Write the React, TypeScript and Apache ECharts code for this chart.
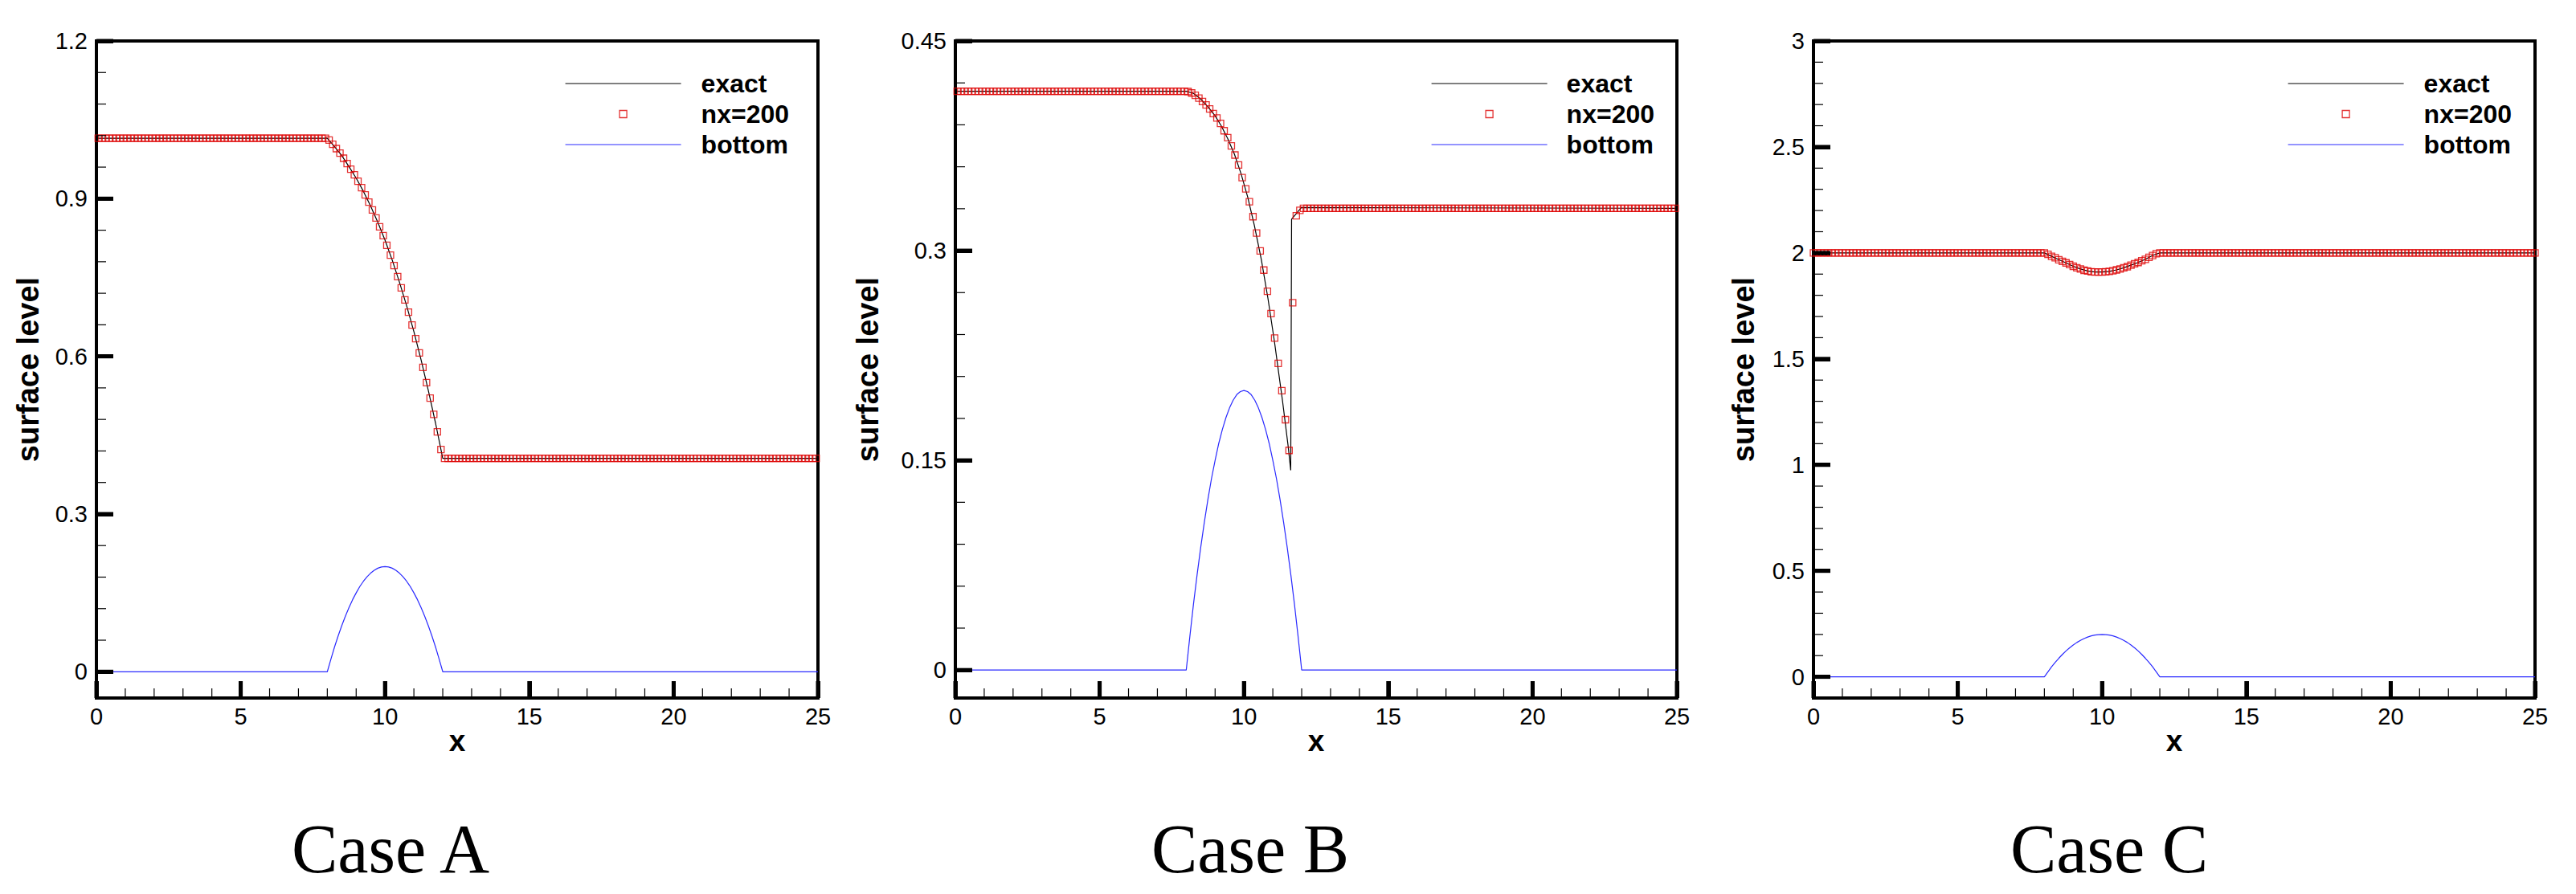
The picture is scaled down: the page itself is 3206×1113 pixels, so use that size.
import { useEffect, useRef } from "react";
import * as echarts from "echarts";

// ---------------- shared axis / grid description ----------------
const xMin = 0;
const xMax = 25;
const xTickValues = [0, 5, 10, 15, 20, 25];
const xMinorStep = 1;
const nx = 200; // number of cells of the numerical solution
const legendNames = ["exact", "nx=200", "bottom"];
const caseTitles = ["Case A", "Case B", "Case C"];

// bottom topography (identical in the three cases)
const bottomX = [0, 8, 8.125, 8.25, 8.375, 8.5, 8.625, 8.75, 8.875, 9, 9.125, 9.25, 9.375, 9.5, 9.625, 9.75, 9.875, 10, 10.125, 10.25, 10.375, 10.5, 10.625, 10.75, 10.875, 11, 11.125, 11.25, 11.375, 11.5, 11.625, 11.75, 11.875, 12, 25];
const bottomZ = [0, 0, 0.024, 0.047, 0.068, 0.0875, 0.1055, 0.122, 0.137, 0.15, 0.162, 0.172, 0.1805, 0.1875, 0.193, 0.197, 0.1992, 0.2, 0.1992, 0.197, 0.193, 0.1875, 0.1805, 0.172, 0.162, 0.15, 0.137, 0.122, 0.1055, 0.0875, 0.068, 0.047, 0.024, 0, 0];

// ---------------- Case A ----------------
const yRangeA = [-0.05, 1.2];
const yTicksA = [0, 0.3, 0.6, 0.9, 1.2];
const yMinorStepA = 0.06;
const exactAX = [0, 8, 8.25, 8.5, 8.75, 9, 9.25, 9.5, 9.75, 10, 10.25, 10.5, 10.75, 11, 11.25, 11.5, 11.75, 12, 25];
const exactAY = [1.015, 1.015, 0.999, 0.982, 0.961, 0.939, 0.914, 0.886, 0.855, 0.821, 0.783, 0.741, 0.696, 0.647, 0.593, 0.535, 0.473, 0.406, 0.406];
const numALeftLevel = 1.015;
const numARightLevel = 0.406;
const numAFirstCell = 64; // cell centred at x = 8.0625
const numATransition = [1.0115, 1.0034, 0.9952, 0.9866, 0.9769, 0.9667, 0.956, 0.9453, 0.9331, 0.9209, 0.9071, 0.8934, 0.8786, 0.8633, 0.8465, 0.8297, 0.8114, 0.7925, 0.7727, 0.7518, 0.7304, 0.7075, 0.684, 0.6596, 0.6336, 0.6066, 0.5791, 0.5501, 0.5205, 0.4895, 0.4563, 0.4227];

// ---------------- Case B ----------------
const yRangeB = [-0.02, 0.45];
const yTicksB = [0, 0.15, 0.3, 0.45];
const yMinorStepB = 0.03;
const exactBX = [0, 8, 8.25, 8.5, 8.75, 9, 9.21, 9.44, 9.67, 9.9, 10.13, 10.36, 10.6, 10.83, 11.06, 11.2, 11.34, 11.53, 11.62, 11.65, 11.99, 25];
const exactBY = [0.414, 0.414, 0.4125, 0.4085, 0.403, 0.3965, 0.3894, 0.38, 0.369, 0.355, 0.3383, 0.318, 0.2938, 0.266, 0.2344, 0.213, 0.1919, 0.1603, 0.1429, 0.3225, 0.3308, 0.3303];
const numBLeftLevel = 0.414;
const numBRightLevel = 0.3303;
const numBFirstCell = 64;
const numBTransition = [0.4138, 0.4128, 0.4112, 0.4091, 0.4067, 0.4043, 0.4014, 0.3981, 0.3949, 0.391, 0.3858, 0.3808, 0.3749, 0.3684, 0.3613, 0.3522, 0.3442, 0.335, 0.3243, 0.3126, 0.2998, 0.2861, 0.271, 0.255, 0.2375, 0.2194, 0.1999, 0.1791, 0.1571, 0.2628, 0.325, 0.3288];

// ---------------- Case C ----------------
const yRangeC = [-0.1, 3];
const yTicksC = [0, 0.5, 1, 1.5, 2, 2.5, 3];
const yMinorStepC = 0.1;
const exactCX = [0, 8, 8.25, 8.5, 8.75, 9, 9.25, 9.5, 9.75, 10, 10.25, 10.5, 10.75, 11, 11.25, 11.5, 11.75, 12, 25];
const exactCY = [2.0, 2.0, 1.984, 1.968, 1.953, 1.937, 1.924, 1.915, 1.91, 1.91, 1.913, 1.92, 1.93, 1.942, 1.955, 1.97, 1.988, 2.0, 2.0];
const numCLevel = 2.0;
const numCFirstNode = 65; // node at x = 8.125
const numCTransition = [1.993, 1.984, 1.977, 1.968, 1.96, 1.953, 1.945, 1.937, 1.93, 1.924, 1.918, 1.915, 1.911, 1.91, 1.91, 1.91, 1.911, 1.913, 1.916, 1.92, 1.924, 1.93, 1.935, 1.942, 1.949, 1.955, 1.963, 1.97, 1.979, 1.988, 1.996];

// ---------------- helpers ----------------
const SANS = '"Liberation Sans", Arial, Helvetica, sans-serif';
const SERIF = '"Liberation Serif", "Times New Roman", serif';
const RED = "#dd0000";
const BLUE = "#2a2aff";
const HIDDEN = "rgba(0,0,0,0)";

const dx = (xMax - xMin) / nx;
const cellCentres = Array.from({ length: nx }, (_, i) => xMin + (i + 0.5) * dx);
const gridNodes = Array.from({ length: nx + 1 }, (_, i) => xMin + i * dx);

function zip(xs: number[], ys: number[]) {
  return xs.map((x, i) => [x, ys[i]]);
}
function profile(xs: number[], left: number, right: number, first: number, mid: number[]) {
  return xs.map((x, i) => {
    const k = i - first;
    const y = k < 0 ? left : k < mid.length ? mid[k] : right;
    return [x, y];
  });
}
function minorTicks(range: number[], step: number, majors: number[]) {
  const out: number[] = [];
  const start = Math.ceil(range[0] / step - 1e-9);
  for (let k = start; k * step <= range[1] + 1e-9; k++) {
    const v = +(k * step).toFixed(6);
    if (v <= range[0] + 1e-9 || v >= range[1] - 1e-9) continue;
    if (majors.some((m) => Math.abs(m - v) < 1e-6)) continue;
    out.push(v);
  }
  return out;
}

const panels = [
  {
    left: 120, yRange: yRangeA, yTicks: yTicksA, yMinor: minorTicks(yRangeA, yMinorStepA, yTicksA),
    yNameGap: 66, legendLeft: 703, textPad: 20, caseX: 486,
    exact: zip(exactAX, exactAY),
    num: profile(cellCentres, numALeftLevel, numARightLevel, numAFirstCell, numATransition),
  },
  {
    left: 1189, yRange: yRangeB, yTicks: yTicksB, yMinor: minorTicks(yRangeB, yMinorStepB, yTicksB),
    yNameGap: 90, legendLeft: 1781, textPad: 19, caseX: 1556,
    exact: zip(exactBX, exactBY),
    num: profile(cellCentres, numBLeftLevel, numBRightLevel, numBFirstCell, numBTransition),
  },
  {
    left: 2257, yRange: yRangeC, yTicks: yTicksC, yMinor: minorTicks(yRangeC, yMinorStepC, yTicksC),
    yNameGap: 68, legendLeft: 2847, textPad: 20, caseX: 2625,
    exact: zip(exactCX, exactCY),
    num: profile(gridNodes, numCLevel, numCLevel, numCFirstNode, numCTransition),
  },
];
const xMinor = minorTicks([xMin, xMax], xMinorStep, xTickValues);

const GRID_TOP = 51;
const GRID_W = 898;
const GRID_H = 818;
const MAJOR_LEN = 21;
const MAJOR_W = 5;
const MINOR_LEN = 12;
const MINOR_W = 1.2;

const FRAME = { show: true, onZero: false, lineStyle: { color: "#000", width: 4 } };
const TICK_FONT = { fontFamily: SANS, fontSize: 29, color: "#000" };
const TITLE_FONT = { fontFamily: SANS, fontWeight: "bold", color: "#000" };
const OFF = { show: false };

// tick marks as filled rectangles placed through the axes' own scales (drawn over the axis ticks)
function tickSeries(xi: number, yi: number, data: number[][], size: number[], offset: number[]) {
  return {
    type: "scatter", xAxisIndex: xi, yAxisIndex: yi, data,
    symbol: "rect", symbolSize: size, symbolOffset: offset,
    itemStyle: { color: "#000", borderWidth: 0, opacity: 1 },
    silent: true, clip: false, z: 6, legendHoverLink: false,
    emphasis: { disabled: true },
  };
}

function buildOption() {
  const grid: any[] = [];
  const xAxis: any[] = [];
  const yAxis: any[] = [];
  const series: any[] = [];

  panels.forEach((p, i) => {
    grid.push({
      left: p.left, top: GRID_TOP, width: GRID_W, height: GRID_H,
      show: true, borderColor: "#000", borderWidth: 4, backgroundColor: HIDDEN,
      containLabel: false, outerBoundsMode: "none",
    });
    const xi = xAxis.length;
    xAxis.push({
      type: "value", gridIndex: i, min: xMin, max: xMax, position: "bottom",
      name: "x", nameLocation: "middle", nameGap: 35, nameMoveOverlap: false,
      nameTextStyle: { ...TITLE_FONT, fontSize: 37 },
      axisLine: FRAME,
      axisTick: { show: true, inside: true, length: MAJOR_LEN, lineStyle: { color: "#000", width: MAJOR_W }, customValues: xTickValues },
      axisLabel: { show: true, margin: 8, ...TICK_FONT, customValues: xTickValues },
      splitLine: OFF,
    });
    xAxis.push({
      type: "value", gridIndex: i, min: xMin, max: xMax, position: "top",
      axisLine: FRAME, axisTick: OFF, axisLabel: OFF, splitLine: OFF,
    });
    const yi = yAxis.length;
    yAxis.push({
      type: "value", gridIndex: i, min: p.yRange[0], max: p.yRange[1], position: "left",
      name: "surface level", nameLocation: "middle", nameGap: p.yNameGap, nameMoveOverlap: false,
      nameTextStyle: { ...TITLE_FONT, fontSize: 38 },
      axisLine: FRAME,
      axisTick: { show: true, inside: true, length: MAJOR_LEN, lineStyle: { color: "#000", width: MAJOR_W }, customValues: p.yTicks },
      axisLabel: { show: true, margin: 11, ...TICK_FONT, customValues: p.yTicks },
      splitLine: OFF,
    });
    yAxis.push({
      type: "value", gridIndex: i, min: p.yRange[0], max: p.yRange[1], position: "right",
      axisLine: FRAME, axisTick: OFF, axisLabel: OFF, splitLine: OFF,
    });

    // data
    series.push({
      name: "exact", type: "line", xAxisIndex: xi, yAxisIndex: yi, data: p.exact,
      symbol: "none", showSymbol: false, silent: true, z: 3,
      lineStyle: { color: "#000", width: 1.2 }, itemStyle: { color: "#000" },
    });
    series.push({
      name: "nx=200", type: "scatter", xAxisIndex: xi, yAxisIndex: yi, data: p.num,
      symbol: "rect", symbolSize: 8, silent: true, z: 4,
      itemStyle: { color: HIDDEN, borderColor: RED, borderWidth: 1.3 },
    });
    series.push({
      name: "bottom", type: "line", xAxisIndex: xi, yAxisIndex: yi, data: zip(bottomX, bottomZ),
      symbol: "none", showSymbol: false, silent: true, z: 3,
      lineStyle: { color: BLUE, width: 1.2 }, itemStyle: { color: BLUE },
    });

    // ticks (inside, on the left and bottom frame lines)
    series.push(tickSeries(xi, yi, p.yTicks.map((v) => [xMin, v]), [MAJOR_LEN, MAJOR_W], [MAJOR_LEN / 2, 0]));
    series.push(tickSeries(xi, yi, p.yMinor.map((v) => [xMin, v]), [MINOR_LEN, MINOR_W], [MINOR_LEN / 2, 0]));
    series.push(tickSeries(xi, yi, xTickValues.map((v) => [v, p.yRange[0]]), [MAJOR_W, MAJOR_LEN], [0, -MAJOR_LEN / 2]));
    series.push(tickSeries(xi, yi, xMinor.map((v) => [v, p.yRange[0]]), [MINOR_W, MINOR_LEN], [0, -MINOR_LEN / 2]));
  });

  const legend = panels.map((p) => ({
    orient: "vertical", left: p.legendLeft, top: 88, padding: 0,
    itemWidth: 144, itemHeight: 9, itemGap: 6, selectedMode: false, symbolKeepAspect: true,
    data: [
      { name: legendNames[0], itemStyle: { color: HIDDEN, borderWidth: 0, opacity: 0 } },
      { name: legendNames[1], icon: "path://M0,0L10,0L10,10L0,10Z", itemStyle: { color: HIDDEN, borderColor: RED, borderWidth: 1.3 } },
      { name: legendNames[2], itemStyle: { color: HIDDEN, borderWidth: 0, opacity: 0 } },
    ],
    lineStyle: { width: 1.2 },
    textStyle: { ...TITLE_FONT, fontSize: 32, padding: [0, 0, 0, p.textPad] },
  }));

  const graphic = panels.map((p, i) => ({
    type: "text", x: p.caseX, y: 1057, silent: true,
    style: {
      text: caseTitles[i], font: `86px ${SERIF}`, fill: "#000",
      align: "center", verticalAlign: "middle", textAlign: "center", textVerticalAlign: "middle",
    },
  }));

  return {
    animation: false,
    backgroundColor: "#fff",
    textStyle: { fontFamily: SANS },
    grid, xAxis, yAxis, series, legend, graphic,
  };
}

export default function App() {
  const ref = useRef<HTMLDivElement>(null);
  useEffect(() => {
    if (!ref.current) return;
    const chart = echarts.init(ref.current, undefined, { renderer: "svg" });
    chart.setOption(buildOption() as any);
    return () => chart.dispose();
  }, []);
  return (
    <div
      ref={ref}
      style={{ position: "fixed", left: 0, top: 0, width: 3206, height: 1113, background: "#fff" }}
    />
  );
}
